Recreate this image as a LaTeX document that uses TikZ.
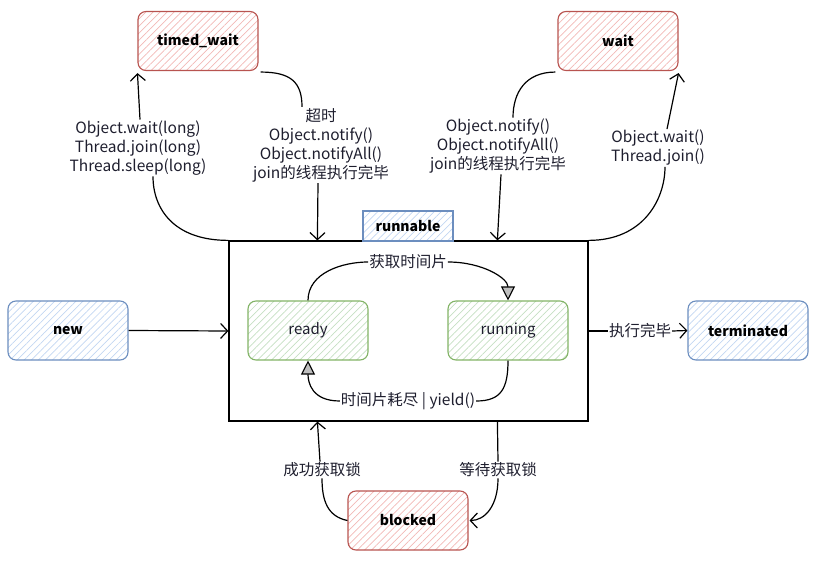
\documentclass[tikz,border=0pt]{standalone}
\usepackage{fontspec}
\setmainfont{Noto Sans CJK SC}
\usetikzlibrary{arrows.meta,patterns.meta,calc}
\definecolor{redS}{HTML}{B85450}
\definecolor{redF}{HTML}{F2B8B6}
\definecolor{bluS}{HTML}{6C8EBF}
\definecolor{bluF}{HTML}{C2D6F2}
\definecolor{grnS}{HTML}{82B366}
\definecolor{grnF}{HTML}{C5DFC2}
\definecolor{txt}{HTML}{1E1E2E}
\tikzset{
  box/.style={rounded corners=8pt, minimum width=120pt, minimum height=59pt, line width=1.1pt, inner sep=0pt, text=black},
  hatch/.style={pattern={Lines[angle=45,distance=5pt,line width=0.7pt]}},
  redbox/.style={box, draw=redS, hatch, pattern color=redF, font=\bfseries\fontsize{14}{16}\selectfont},
  bluebox/.style={box, draw=bluS, hatch, pattern color=bluF, font=\bfseries\fontsize{14}{16}\selectfont},
  greenbox/.style={box, draw=grnS, hatch, pattern color=grnF, font=\fontsize{15}{16}\selectfont, text=txt},
  lbl/.style={align=center, font=\fontsize{15.5}{19}\selectfont, inner sep=1pt, text=txt},
  ln/.style={line width=1.2pt, draw=black},
  arr/.style={-{Straight Barb[length=7pt,width=15pt,line width=1.2pt]}},
  tri/.style={-{Triangle[length=14pt,width=14pt,fill=gray!50,line width=1.1pt]}},
}
\begin{document}
\begin{tikzpicture}[x=1pt,y=-1pt]
\useasboundingbox (0,0) rectangle (816,561);
% containers and states
\node[draw, line width=1.2pt, minimum width=359pt, minimum height=180pt, inner sep=0pt] (rn) at (408.5,331) {};
\node[box, rounded corners=0pt, draw=bluS, hatch, pattern color=bluF, minimum width=90pt, minimum height=30pt, font=\bfseries\fontsize{14}{16}\selectfont] (rl) at (408,226) {runnable};
\node[redbox] (tw) at (198,41) {timed\_wait};
\node[redbox] (wt) at (618,41) {wait};
\node[bluebox] (nw) at (68,330.5) {new};
\node[bluebox] (tm) at (748,330.5) {terminated};
\node[greenbox] (rd) at (308,330.5) {ready};
\node[greenbox] (rg) at (508,330.5) {running};
\node[redbox] (bk) at (408,520.5) {blocked};
% labels
\node[lbl] (l1) at (138,148) {Object.wait(long)\\Thread.join(long)\\Thread.sleep(long)};
\node[lbl] (l2) at (321,145) {超时\\Object.notify()\\Object.notifyAll()\\join的线程执行完毕};
\node[lbl] (l3) at (498,146) {Object.notify()\\Object.notifyAll()\\join的线程执行完毕};
\node[lbl] (l4) at (658,148) {Object.wait()\\Thread.join()};
\node[lbl] (l5) at (408,262) {获取时间片};
\node[lbl] (l6) at (408,401) {时间片耗尽 | yield()};
\node[lbl] (l7) at (322,470) {成功获取锁};
\node[lbl] (l8) at (498,470) {等待获取锁};
\node[lbl, fill=white] (l9) at (640,331) {执行完毕};
% connectors
\draw[ln] (rn.north west) .. controls +(-55,0) and +(0,32) .. ([xshift=15pt]l1.south);
\draw[ln,arr] ([xshift=2pt]l1.north) -- ($(tw.south west)+(0,2)$);
\draw[ln] (rn.north east) .. controls +(55,0) and +(0,32) .. ([xshift=7pt]l4.south);
\draw[ln,arr] ([xshift=9pt]l4.north) -- ($(wt.south east)+(0,2)$);
\draw[ln] ($(tw.south east)+(2,1)$) .. controls +(30,0) and +(0,-25) .. ([xshift=-19pt]l2.north);
\draw[ln,arr] ([xshift=-3pt]l2.south) -- ($(rn.north west)+(89,0)$);
\draw[ln] ($(wt.south west)+(-2,1)$) .. controls +(-30,0) and +(0,-25) .. ([xshift=15pt]l3.north);
\draw[ln,arr] ([xshift=3pt]l3.south) -- ($(rn.north west)+(269,0)$);
\draw[ln,arr] (nw.east) -- (rn.west);
\draw[ln] (rn.east) -- (l9.west);
\draw[ln,arr] (l9.east) -- (tm.west);
\draw[ln] (rd.north) .. controls +(0,-28) and +(-25,0) .. (l5.west);
\draw[ln,tri] (l5.east) .. controls +(35,0) and +(0,-22) .. (rg.north);
\draw[ln] (rg.south) .. controls +(0,28) and +(25,0) .. (l6.east);
\draw[ln,tri] (l6.west) .. controls +(-28,0) and +(0,22) .. (rd.south);
\draw[ln] (bk.west) .. controls +(-20,-4) and +(0,22) .. (l7.south);
\draw[ln,arr] ([xshift=-2pt]l7.north) -- ($(rn.south west)+(89,0)$);
\draw[ln] ($(rn.south west)+(269,0)$) -- (l8.north);
\draw[ln,arr] (l8.south) .. controls +(0,28) and +(15,0) .. ($(bk.east)+(1,0)$);
\end{tikzpicture}
\end{document}
